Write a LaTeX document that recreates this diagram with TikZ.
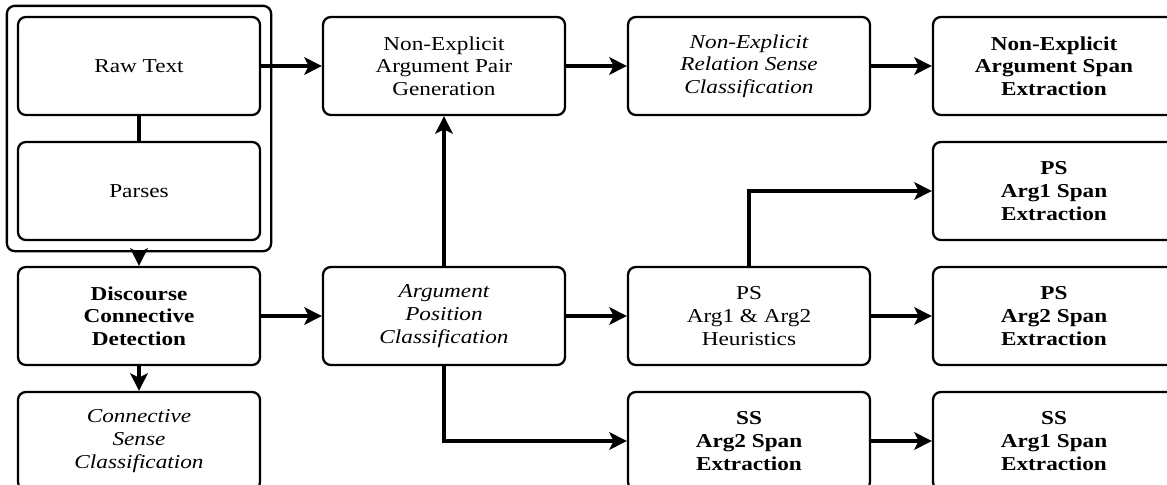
\documentclass[tikz,border=0pt]{standalone}
\usepackage{fontspec}
\setmainfont{Liberation Serif}[FakeStretch=1.18]
\usetikzlibrary{arrows.meta,fit}

\begin{document}
\begin{tikzpicture}[
		box/.style={draw,line width=1.3pt,rounded corners=4.5pt,minimum width=4.84cm,minimum height=1.96cm,align=center,inner sep=0pt,font=\fontsize{11.2}{12.9}\selectfont},
		flow/.style={line width=2.8pt,-{Stealth[length=10pt,width=10pt,inset=2.5pt]}}
	]
		
		\useasboundingbox (0,0) rectangle (23.34,-9.70);
		
		
		% input
		\node[box] (raw) at (2.78,-1.32) {Raw Text};
		\node[box] (parses) at (2.78,-3.82) {Parses};
		\node[draw,line width=1.3pt,rounded corners=4.5pt,inner sep=0.2cm,fit=(raw)(parses)] (input) {};
		
		
		% explicit side
		\node[box] (disc) at (2.78,-6.32) {\bfseries Discourse\\\bfseries Connective\\\bfseries Detection};
		\node[box] (conn) at (2.78,-8.82) {\itshape Connective\\\itshape Sense\\\itshape Classification};
		\node[box] (apc) at (8.88,-6.32) {\itshape Argument\\\itshape Position\\\itshape Classification};
		\node[box] (psh) at (14.98,-6.32) {PS\\Arg1 \& Arg2\\Heuristics};
		\node[box] (ssarg2) at (14.98,-8.82) {\bfseries SS\\\bfseries Arg2 Span\\\bfseries Extraction};
		\node[box] (psarg1) at (21.08,-3.82) {\bfseries PS\\\bfseries Arg1 Span\\\bfseries Extraction};
		\node[box] (psarg2) at (21.08,-6.32) {\bfseries PS\\\bfseries Arg2 Span\\\bfseries Extraction};
		\node[box] (ssarg1) at (21.08,-8.82) {\bfseries SS\\\bfseries Arg1 Span\\\bfseries Extraction};
		
		
		% non-explicit side
		\node[box] (nepair) at (8.88,-1.32) {Non-Explicit\\Argument Pair\\Generation};
		\node[box] (nesense) at (14.98,-1.32) {\itshape Non-Explicit\\\itshape Relation Sense\\\itshape Classification};
		\node[box] (nespan) at (21.08,-1.32) {\bfseries Non-Explicit\\\bfseries Argument Span\\\bfseries Extraction};
		
		
		\draw[line width=2.8pt] (raw) -- (parses);
		\draw[flow] (input) -- (disc);
		\draw[flow] (disc) -- (conn);
		\draw[flow] (disc) -- (apc);
		\draw[flow] (apc) -- (psh);
		\draw[flow] (apc) -- (nepair);
		\draw[flow] (apc.south) |- (ssarg2.west);
		\draw[flow] (psh.north) |- (psarg1.west);
		\draw[flow] (psh) -- (psarg2);
		\draw[flow] (ssarg2) -- (ssarg1);
		
		
		\draw[flow] (raw) -- (nepair);
		\draw[flow] (nepair) -- (nesense);
		\draw[flow] (nesense) -- (nespan);
		
		
	\end{tikzpicture}
\end{document}
